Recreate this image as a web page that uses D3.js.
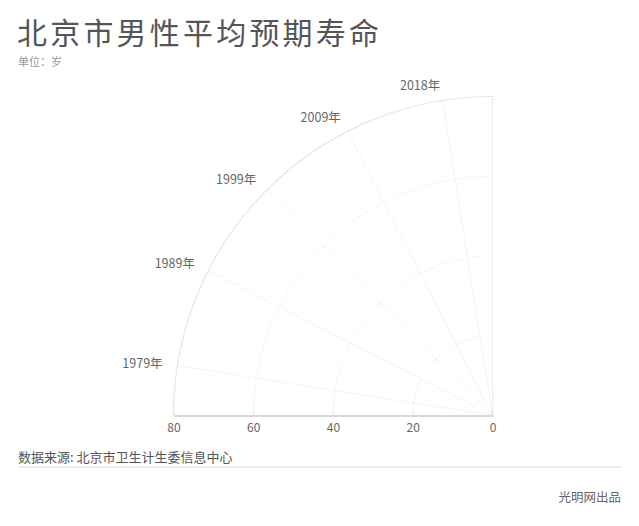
<!DOCTYPE html>
<html>
<head>
<meta charset="utf-8">
<script src="https://cdn.jsdelivr.net/npm/d3@7"></script>
<style>
  body { margin: 0; background: #fff; }
  text { font-family: "Noto Sans CJK SC", "Noto Sans", sans-serif; }
</style>
</head>
<body>
<script>
// categories around the quarter circle, radial ticks along the bottom
var categories = ["1979年", "1989年", "1999年", "2009年", "2018年"];
var radialTicks = [0, 20, 40, 60, 80];
var gridRings = [20, 40, 60];

var W = 639, H = 526;
var cx = 492.5, cy = 415.5, R = 319;

var svg = d3.select("body").append("svg")
    .attr("width", W)
    .attr("height", H);

// title block
svg.append("text")
    .attr("x", 17)
    .attr("y", 43.5)
    .attr("font-size", "30px")
    .attr("letter-spacing", "3.2px")
    .attr("fill", "#555")
    .text("北京市男性平均预期寿命");

svg.append("text")
    .attr("x", 18)
    .attr("y", 65.5)
    .attr("font-size", "11px")
    .attr("fill", "#999")
    .text("单位：岁");

// scales
var r = d3.scaleLinear().domain([0, 80]).range([0, R]);
// angle from the left horizontal, going up to the vertical
var a = d3.scaleBand().domain(categories).range([0, Math.PI / 2]);
var mid = function(d) { return a(d) + a.bandwidth() / 2; };
var px = function(ang, rad) { return cx - rad * Math.cos(ang); };
var py = function(ang, rad) { return cy - rad * Math.sin(ang); };

var g = svg.append("g");

function quarter(rad) {
    var p = d3.path();
    p.arc(cx, cy, rad, Math.PI, 1.5 * Math.PI);
    return p.toString();
}

// dotted rings
g.selectAll(".ring")
    .data(gridRings)
    .enter().append("path")
    .attr("class", "ring")
    .attr("d", function(d) { return quarter(r(d)); })
    .attr("fill", "none")
    .attr("stroke", "#e3e3e3")
    .attr("stroke-width", 1)
    .attr("stroke-dasharray", "1,2");

// dotted spokes at category centres
g.selectAll(".spoke")
    .data(categories)
    .enter().append("line")
    .attr("class", "spoke")
    .attr("x1", cx).attr("y1", cy)
    .attr("x2", function(d) { return px(mid(d), R); })
    .attr("y2", function(d) { return py(mid(d), R); })
    .attr("stroke", "#dedede")
    .attr("stroke-width", 1)
    .attr("stroke-dasharray", "1,2");

// outer rim
g.append("path")
    .attr("d", quarter(R))
    .attr("fill", "none")
    .attr("stroke", "#e6e6e6")
    .attr("stroke-width", 1.2);

// right vertical edge
g.append("line")
    .attr("x1", cx).attr("y1", cy)
    .attr("x2", cx).attr("y2", cy - R)
    .attr("stroke", "#e3e3e3")
    .attr("stroke-width", 1.2)
    .attr("stroke-dasharray", "2,1");

// category labels outside the rim
g.selectAll(".cat")
    .data(categories)
    .enter().append("text")
    .attr("class", "cat")
    .attr("x", function(d) { return px(mid(d), R + 15); })
    .attr("y", function(d) { return py(mid(d), R + 15); })
    .attr("dy", "0.35em")
    .attr("text-anchor", "end")
    .attr("font-size", "12.5px")
    .attr("fill", "#666")
    .text(function(d) { return d; });

// radial axis along the bottom
var xr = d3.scaleLinear().domain([80, 0]).range([cx - R, cx]);
var axis = svg.append("g")
    .attr("transform", "translate(0," + cy + ")")
    .call(d3.axisBottom(xr).tickValues(radialTicks).tickSize(0).tickPadding(8));
axis.select(".domain").attr("stroke", "#ccc").attr("stroke-width", 1.5);
axis.selectAll("text")
    .attr("font-size", "12px")
    .attr("fill", "#666")
    .attr("font-family", "'Noto Sans CJK SC', sans-serif");

// small tick marks pointing up
axis.selectAll(".tick").append("line")
    .attr("y1", 0).attr("y2", -4)
    .attr("stroke", "#ddd");

// footer
svg.append("text")
    .attr("x", 18)
    .attr("y", 462)
    .attr("font-size", "13px")
    .attr("fill", "#555")
    .text("数据来源: 北京市卫生计生委信息中心");

svg.append("line")
    .attr("x1", 18).attr("x2", 622)
    .attr("y1", 467).attr("y2", 467)
    .attr("stroke", "#ddd")
    .attr("stroke-width", 1);

svg.append("text")
    .attr("x", 621)
    .attr("y", 502)
    .attr("text-anchor", "end")
    .attr("font-size", "12.5px")
    .attr("fill", "#666")
    .text("光明网出品");
</script>
</body>
</html>
